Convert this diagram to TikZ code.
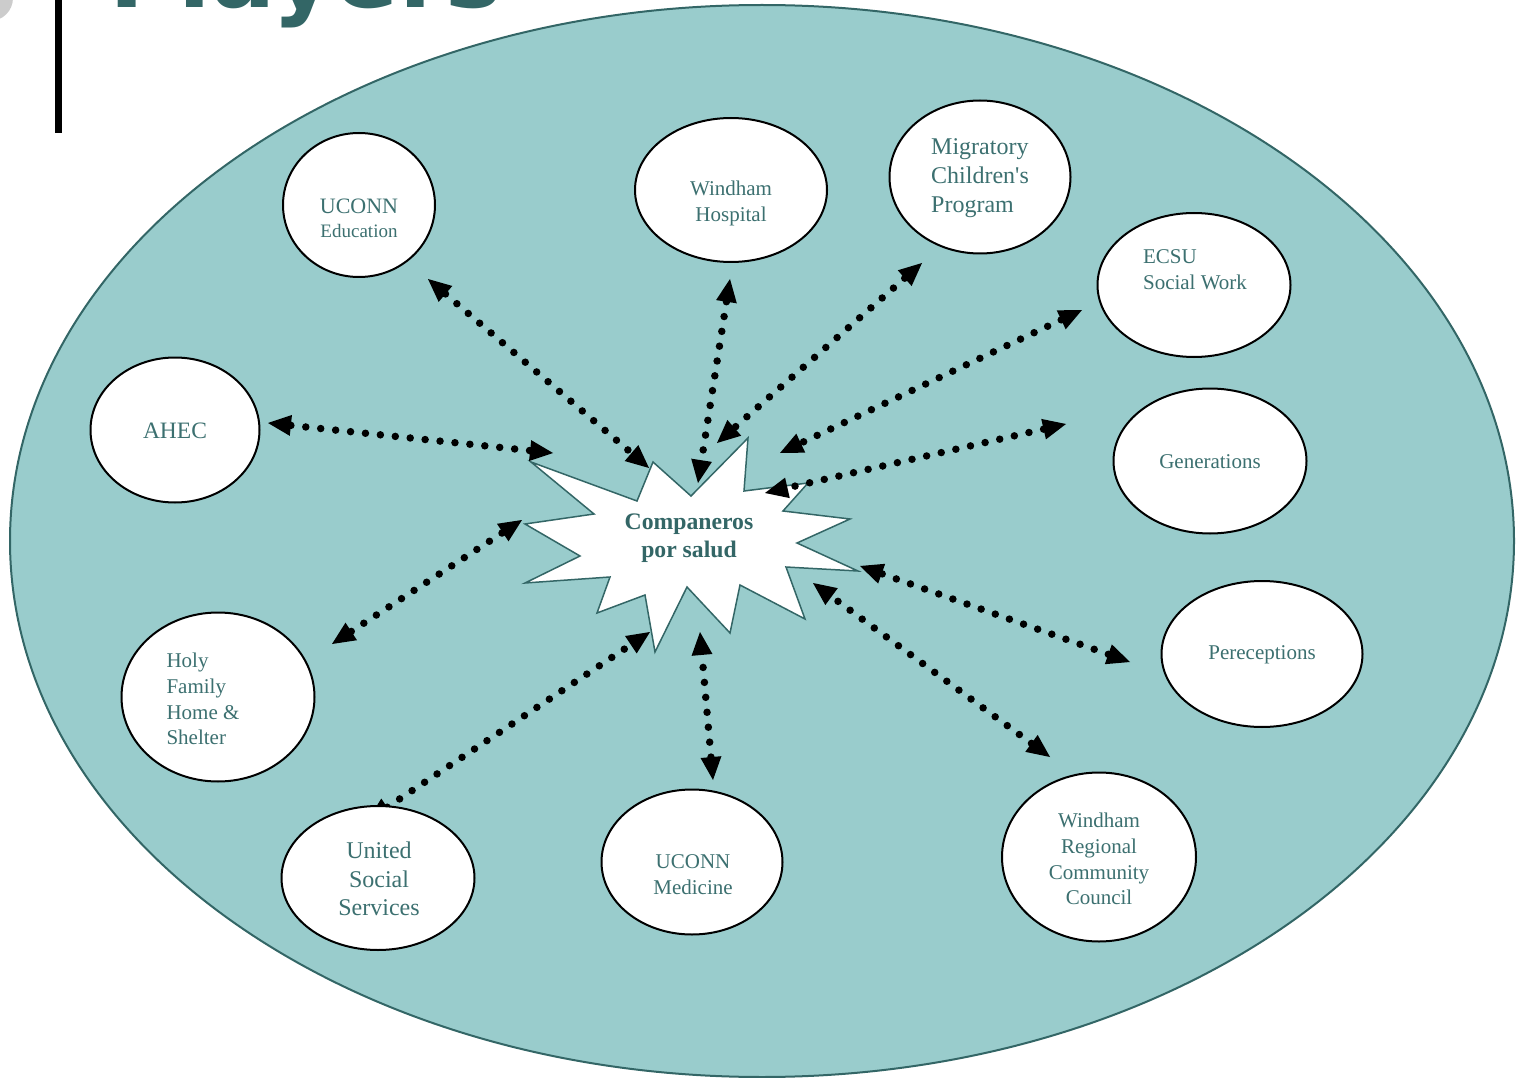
\documentclass[tikz,border=0pt]{standalone}
\usepackage{fontspec}
\setmainfont{Liberation Serif}
\newfontfamily\titlefont{DejaVu Sans}
\usepackage{tikz}
\usetikzlibrary{calc, arrows.meta, shapes.geometric}
\definecolor{mypool}{RGB}{153,204,204}
\definecolor{myteal}{RGB}{51,102,102}
\definecolor{mytext}{RGB}{60,112,112}
\definecolor{mygray}{RGB}{204,204,204}
\tikzset{>=Triangle}

\begin{document}
\begin{tikzpicture}[x=1pt, y=-1pt,
  myoval/.style 2 args={
    draw=black,
    fill=white,
    ellipse,
    line width=2pt,
    inner sep=0pt,
    minimum width=#1,
    minimum height=#2
  },
  mylabel/.style={
    text=mytext,
    align=center,
    inner sep=0pt,
    font=\fontsize{21}{26}\selectfont
  },
  mystar/.style={
    draw=myteal,
    fill=white,
    line width=1.5pt,
    line join=miter
  },
  arr/.style={
    line width=7.5pt,
    line cap=round,
    dash pattern=on 0pt off 15pt,
    {Triangle[length=23pt,width=21pt,line width=0pt]}-{Triangle[length=23pt,width=21pt,line width=0pt]}
  }
]
\useasboundingbox (0,0) rectangle (1519,1078);

%the slide frame
\fill[mygray] (-10,-2) circle (23);
\fill[black] (55,0) rectangle (62,133);
\node[anchor=base west, inner sep=0pt, text=myteal,
  font=\titlefont\bfseries\fontsize{95}{100}\selectfont] (title) at (109,8) {Players};

%the pool
\draw[myteal, fill=mypool, line width=2pt] (762,541) ellipse [x radius=752, y radius=536];

%the star in the middle
\draw[mystar] (531,462) -- (637,501) -- (653,462) -- (691,496) -- (748,438)
  -- (744,491) -- (808,483) -- (783,511) -- (850,519) -- (797,543)
  -- (858,571) -- (786,567) -- (805,619) -- (740,585) -- (730,633)
  -- (687,587) -- (655,652) -- (645,595) -- (597,613) -- (610,577)
  -- (525,583) -- (580,556) -- (525,524) -- (594,514) -- cycle;
\node[mylabel, text=myteal, font=\bfseries\fontsize{23.7}{28}\selectfont] (hub) at (689,538)
  {Companeros\\por salud};

%the arrow ends
\coordinate (uedu-a) at (428,279);  \coordinate (uedu-b) at (649,468);
\coordinate (whosp-a) at (730,279); \coordinate (whosp-b) at (698,483);
\coordinate (migr-a) at (922,263);  \coordinate (migr-b) at (717,443);
\coordinate (ecsu-a) at (1082,310); \coordinate (ecsu-b) at (780,453);
\coordinate (gen-a) at (1066,424);  \coordinate (gen-b) at (765,493);
\coordinate (ahec-a) at (268,423);  \coordinate (ahec-b) at (553,453);
\coordinate (holy-a) at (332,644);  \coordinate (holy-b) at (522,520);
\coordinate (usoc-a) at (368,820);  \coordinate (usoc-b) at (650,632);
\coordinate (umed-a) at (713,780);  \coordinate (umed-b) at (700,632);
\coordinate (wrcc-a) at (1050,757); \coordinate (wrcc-b) at (813,583);
\coordinate (perc-a) at (1130,662); \coordinate (perc-b) at (860,566);

%the arrows
\draw[arr] (uedu-a) -- (uedu-b);
\draw[arr] (whosp-a) -- (whosp-b);
\draw[arr] (migr-a) -- (migr-b);
\draw[arr] (ecsu-a) -- (ecsu-b);
\draw[arr] (gen-a) -- (gen-b);
\draw[arr] (ahec-a) -- (ahec-b);
\draw[arr] (holy-a) -- (holy-b);
\draw[arr] (usoc-a) -- (usoc-b);
\draw[arr] (umed-a) -- (umed-b);
\draw[arr] (wrcc-a) -- (wrcc-b);
\draw[arr] (perc-a) -- (perc-b);

%the partners
\node[myoval={152pt}{144pt}] (uedu) at (359,205) {};
\node[myoval={192pt}{144pt}] (whosp) at (731,190) {};
\node[myoval={181pt}{153pt}] (migr) at (980,177) {};
\node[myoval={193pt}{144pt}] (ecsu) at (1194,285) {};
\node[myoval={169pt}{145pt}] (ahec) at (175,430) {};
\node[myoval={193pt}{145pt}] (gen) at (1210,461) {};
\node[myoval={193pt}{169pt}] (holy) at (218,697) {};
\node[myoval={193pt}{144pt}] (usoc) at (378,878) {};
\node[myoval={181pt}{145pt}] (umed) at (692,862) {};
\node[myoval={201pt}{146pt}] (perc) at (1262,654) {};
\node[myoval={194pt}{169pt}] (wrcc) at (1099,857) {};

%the names
\node[mylabel, font=\fontsize{22}{24}\selectfont] (uedu-t) at (359,218)
  {UCONN\\{\fontsize{19}{24}\selectfont Education}};
\node[mylabel] (whosp-t) at (731,203) {Windham\\Hospital};
\node[mylabel, align=left, font=\fontsize{24}{29}\selectfont] (migr-t) at (980,178)
  {Migratory\\Children\textquotesingle s\\Program};
\node[mylabel, align=left] (ecsu-t) at (1195,270) {ECSU\\Social Work};
\node[mylabel, font=\fontsize{23.5}{28}\selectfont] (ahec-t) at (175,431) {AHEC};
\node[mylabel] (gen-t) at (1210,462) {Generations};
\node[mylabel, align=left, font=\fontsize{21}{25.7}\selectfont] (holy-t) at (203,699)
  {Holy\\Family\\Home \&\\Shelter};
\node[mylabel, font=\fontsize{24}{28.5}\selectfont] (usoc-t) at (379,879)
  {United\\Social\\Services};
\node[mylabel] (umed-t) at (693,875) {UCONN\\Medicine};
\node[mylabel] (perc-t) at (1262,655) {Pereceptions};
\node[mylabel, font=\fontsize{21}{25.7}\selectfont] (wrcc-t) at (1099,859)
  {Windham\\Regional\\Community\\Council};

\end{tikzpicture}
\end{document}
